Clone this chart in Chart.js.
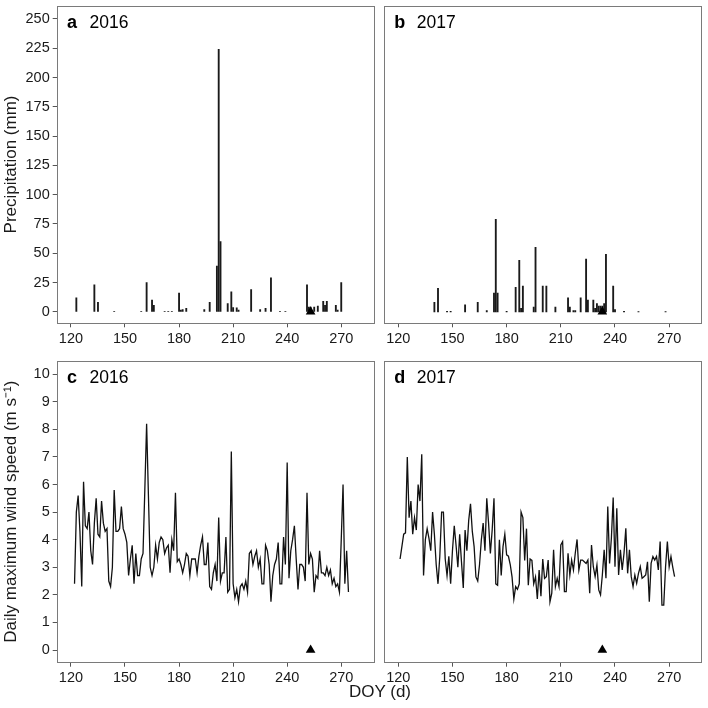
<!DOCTYPE html>
<html>
<head>
<meta charset="utf-8">
<script src="https://cdn.jsdelivr.net/npm/chart.js@4.4.0/dist/chart.umd.min.js"></script>
<style>
html,body{margin:0;padding:0;background:#fff;}
#wrap{position:relative;width:708px;height:708px;overflow:hidden;background:#fff;}
#wrap canvas{position:absolute;}
#xlab{position:absolute;left:280px;width:200px;top:682px;line-height:20px;text-align:center;font-family:'Liberation Sans',Arial,sans-serif;font-size:17px;color:#1a1a1a;}
</style>
</head>
<body>
<div id="wrap">
  <canvas id="ca" width="380" height="350" style="left:0;top:0"></canvas>
  <canvas id="cb" width="330" height="350" style="left:378px;top:0"></canvas>
  <canvas id="cc" width="380" height="358" style="left:0;top:350px"></canvas>
  <canvas id="cd" width="330" height="358" style="left:378px;top:350px"></canvas>
  <div id="xlab">DOY (d)</div>
</div>
<script>
// ---------- DATA ----------
const xTickVals = [120, 150, 180, 210, 240, 270];
const precipTickVals = [0, 25, 50, 75, 100, 125, 150, 175, 200, 225, 250];
const windTickVals = [0, 1, 2, 3, 4, 5, 6, 7, 8, 9, 10];

// Panel a: 2016 daily precipitation (mm)
const precip2016Doy = [123,133,135,144,159,162,165,166,172,174,176,180,181,182,184,194,197,201,202,203,207,209,210,212,213,220,225,228,231,236,239,251,252,253,255,257,260,261,262,267,268,270];
const precip2016Mm  = [12,23,8,0.3,0.5,25,10,5.6,0.5,0.5,0.5,16,1.5,2,3,2,8,39,224,60,7,17,3.7,3.4,1.4,19,2,3,29,0.3,0.3,23,4,4,4,5,9,5.6,9,5.6,1.4,25];

// Panel b: 2017 daily precipitation (mm)
const precip2017Doy = [140,142,147,149,157,164,169,173,174,175,180,185,187,188,189,195,196,200,202,207,214,215,217,218,221,224,225,228,229,230,231,232,233,234,235,239,240,245,253,268];
const precip2017Mm  = [8,20,0.5,0.5,6,8,1,16,79,16,0.5,21,44,3,22,4,55,22,22,4,12,4,1,1,12,45,10,10,3,7,5,5,5,7,49,22,2,0.5,0.3,0.3];

// Panel c: 2016 daily max wind speed (m/s), DOY 122..274
const wind2016FirstDoy = 122;
const wind2016 = [
 2.4,5.0,5.6,4.3,2.3,6.1,4.5,4.4,5.0,3.6,
 3.1,4.6,5.5,4.2,4.1,5.4,4.6,4.3,4.4,2.5,
 2.3,3.0,5.8,4.3,4.3,4.4,5.2,4.4,4.2,3.9,
 2.7,3.3,3.8,2.4,3.5,2.7,2.7,3.3,3.5,5.8,
 8.2,5.6,3.0,2.7,3.0,3.8,3.3,3.9,4.1,4.0,
 3.5,3.7,3.8,2.8,4.0,3.6,5.7,3.2,3.3,3.1,
 2.8,3.1,3.5,3.4,2.7,3.3,3.3,3.3,2.8,3.4,
 3.8,4.1,3.1,3.1,3.9,2.3,2.2,2.8,3.1,2.5,
 4.8,2.5,2.8,2.8,4.1,2.1,2.2,7.2,2.4,1.9,
 2.2,1.75,2.3,2.4,2.2,2.5,2.1,3.5,3.6,3.1,
 3.4,3.6,3.0,3.3,2.4,2.4,3.8,3.6,3.1,1.75,
 2.7,3.1,3.3,3.9,2.4,2.4,4.1,3.1,6.8,2.6,
 3.6,4.0,4.5,3.3,2.2,3.1,3.1,3.0,2.5,5.7,
 3.1,3.5,3.3,2.1,2.7,2.6,3.6,2.8,2.8,2.7,
 3.0,2.7,2.9,2.4,2.6,2.3,2.4,2.1,4.0,6.0,
 2.4,3.6,2.1
];

// Panel d: 2017 daily max wind speed (m/s), DOY 121..273
const wind2017FirstDoy = 121;
const wind2017 = [
 3.3,3.75,4.2,4.25,7.0,4.8,5.4,4.2,4.8,4.35,
 6.0,5.4,7.1,2.7,4.0,4.4,4.05,3.6,5.0,4.2,
 3.1,2.4,3.4,5.0,5.0,3.3,2.7,3.4,2.4,3.6,
 4.5,3.8,3.0,4.2,3.2,2.25,4.35,3.6,4.7,5.3,
 4.3,3.75,2.65,2.5,3.1,4.0,4.6,3.6,5.5,4.6,
 3.5,4.35,5.5,2.4,2.35,4.0,2.7,3.75,4.2,3.45,
 3.4,3.1,2.65,1.85,2.3,2.2,2.4,5.0,4.8,3.25,
 4.4,2.35,3.3,3.25,2.4,2.65,1.85,2.9,1.95,3.3,
 2.6,2.66,3.26,1.75,2.06,3.63,2.3,2.6,2.3,3.81,
 3.93,2.12,2.12,3.51,2.72,3.26,2.9,3.51,4.01,2.9,
 3.26,3.26,3.2,3.14,3.26,2.06,3.81,3.02,2.66,3.08,
 2.18,2.0,2.72,3.63,2.6,5.2,3.14,4.05,5.53,3.02,
 5.14,2.72,3.63,2.9,3.51,4.41,2.78,3.63,2.66,2.3,
 2.72,2.42,2.78,3.02,2.6,2.66,2.72,3.2,1.75,3.14,
 3.39,3.26,3.39,2.9,3.93,1.63,1.63,3.02,3.93,3.02,
 3.39,3.0,2.66
];

// Markers (triangles) at y = 0
const marker2016Doy = 253;
const marker2017Doy = 233;

// ---------- STYLE / LAYOUT ----------
const FONT = "'Liberation Sans', Arial, sans-serif";
const X_MIN = 112.1, X_MAX = 288.4;
const P_MIN = -9.8, P_MAX = 261.4;
const W_MIN = -0.46, W_MAX = 10.49;
const TEXT = '#1a1a1a';
const TICKC = '#555';

function zeroPad(s){ s.paddingLeft = 0; s.paddingRight = 0; s.paddingTop = 0; s.paddingBottom = 0; }

function xScale(h){
  return {
    type: 'linear', min: X_MIN, max: X_MAX, offset: false,
    afterBuildTicks: s => { s.ticks = xTickVals.map(v => ({value: v})); },
    afterFit: s => { s.height = h; zeroPad(s); },
    ticks: {color: TEXT, font: {family: FONT, size: 14.5}, padding: 3, maxRotation: 0, autoSkip: false},
    grid: {offset: false, drawOnChartArea: false, drawTicks: true, tickLength: 4, color: TICKC, lineWidth: 1},
    border: {display: false}
  };
}
function yScale(min, max, vals, title, show){
  if (!show) return {type: 'linear', min: min, max: max, display: false};
  return {
    type: 'linear', min: min, max: max,
    afterBuildTicks: s => { s.ticks = vals.map(v => ({value: v})); },
    afterFit: s => { s.width = 56.7; zeroPad(s); },
    ticks: {color: TEXT, font: {family: FONT, size: 14.5}, padding: 3},
    grid: {drawOnChartArea: false, drawTicks: true, tickLength: 4, color: TICKC, lineWidth: 1},
    border: {display: false},
    title: {display: true, text: title, color: TEXT, font: {family: FONT, size: 17}, padding: {top: 1, bottom: 0}}
  };
}
function panelPlugins(letter, year){
  return [{
    id: 'frameAndLabel',
    afterDraw(chart){
      const ctx = chart.ctx, a = chart.chartArea;
      ctx.save();
      ctx.strokeStyle = '#7a7a7a';
      ctx.lineWidth = 1;
      ctx.strokeRect(Math.round(a.left) + 0.5, Math.round(a.top) + 0.5, Math.round(a.right - a.left) - 1, Math.round(a.bottom - a.top) - 1);
      ctx.fillStyle = '#000';
      ctx.textBaseline = 'alphabetic';
      ctx.font = 'bold 18px ' + FONT;
      ctx.fillText(letter, a.left + 10.3, a.top + 22);
      ctx.font = '17.5px ' + FONT;
      ctx.fillText(year, a.left + 32.8, a.top + 22);
      ctx.restore();
    }
  }];
}
const markerStyle = {type: 'scatter', pointStyle: 'triangle', pointRadius: 5.6, pointHoverRadius: 5.6, backgroundColor: '#000', borderColor: '#000', borderWidth: 0, order: 0};

function precipChart(id, doy, mm, markerDoy, letter, year, left){
  new Chart(document.getElementById(id), {
    type: 'bar',
    data: {datasets: [
      Object.assign({data: [{x: markerDoy, y: 0}]}, markerStyle),
      {type: 'bar', data: doy.map((d, i) => ({x: d, y: mm[i]})), backgroundColor: '#1a1a1a', borderWidth: 0, barThickness: 1.2, grouped: false, order: 1}
    ]},
    options: {
      responsive: false, animation: false, devicePixelRatio: 1,
      layout: {padding: left ? {left: 0, top: 3.3, right: 3.3, bottom: 0} : {left: 6, top: 3.3, right: 4, bottom: 0}},
      plugins: {legend: {display: false}, tooltip: {enabled: false}},
      scales: {x: xScale(26.7), y: yScale(P_MIN, P_MAX, precipTickVals, 'Precipitation (mm)', left)}
    },
    plugins: panelPlugins(letter, year)
  });
}
function windChart(id, first, vals, markerDoy, letter, year, left){
  new Chart(document.getElementById(id), {
    type: 'line',
    data: {datasets: [
      Object.assign({data: [{x: markerDoy, y: 0}]}, markerStyle),
      {data: vals.map((v, i) => ({x: first + i, y: v})), borderColor: '#111', borderWidth: 1.3, pointRadius: 0, tension: 0, fill: false, order: 1}
    ]},
    options: {
      responsive: false, animation: false, devicePixelRatio: 1,
      layout: {padding: left ? {left: 0, top: 10.7, right: 3.3, bottom: 0} : {left: 6, top: 10.7, right: 4, bottom: 0}},
      plugins: {legend: {display: false}, tooltip: {enabled: false}},
      scales: {x: xScale(45.3), y: yScale(W_MIN, W_MAX, windTickVals, 'Daily maximum wind speed (m s\u207B\u00B9)', left)}
    },
    plugins: panelPlugins(letter, year)
  });
}

precipChart('ca', precip2016Doy, precip2016Mm, marker2016Doy, 'a', '2016', true);
precipChart('cb', precip2017Doy, precip2017Mm, marker2017Doy, 'b', '2017', false);
windChart('cc', wind2016FirstDoy, wind2016, marker2016Doy, 'c', '2016', true);
windChart('cd', wind2017FirstDoy, wind2017, marker2017Doy, 'd', '2017', false);
</script>
</body>
</html>
